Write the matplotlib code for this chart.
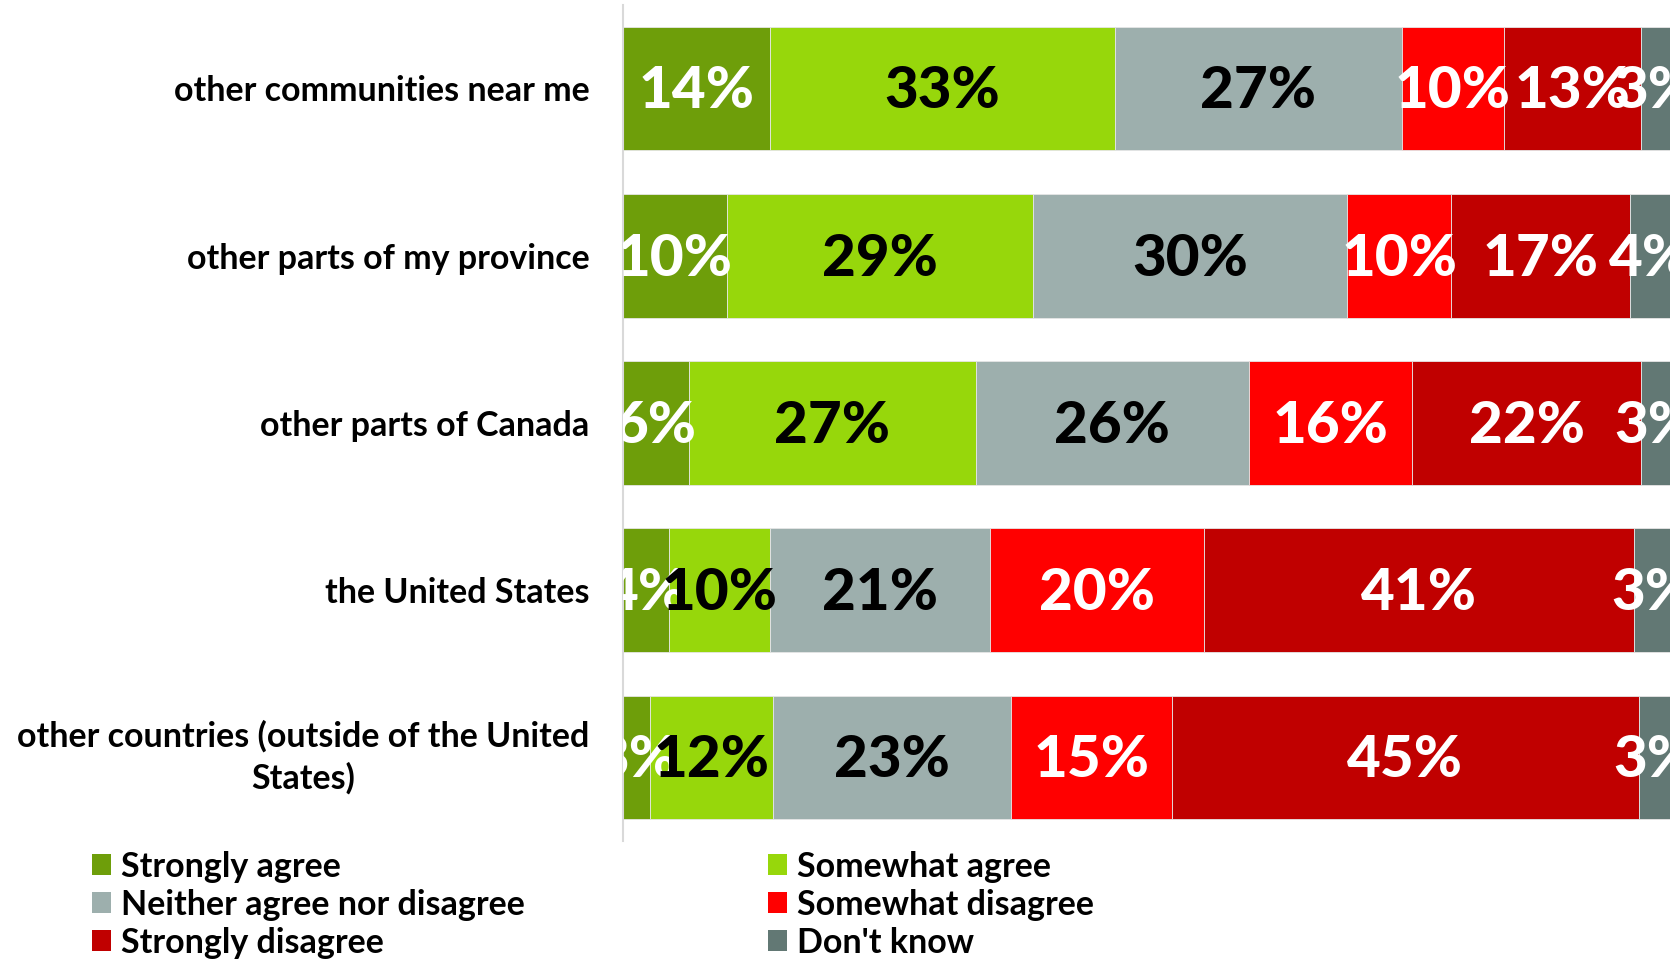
import matplotlib
matplotlib.use("Agg")
import matplotlib.pyplot as plt
from matplotlib.patches import Patch

plt.rcParams['font.family'] = ['Lato', 'DejaVu Sans']

categories = [
    "other communities near me",
    "other parts of my province",
    "other parts of Canada",
    "the United States",
    "other countries (outside of the United\nStates)",
]
responses = ["Strongly agree", "Somewhat agree", "Neither agree nor disagree",
             "Somewhat disagree", "Strongly disagree", "Don't know"]

# percent per category, one list per response
strongly_agree = [14.0, 9.9, 6.3, 4.4, 2.6]
somewhat_agree = [33.0, 29.3, 27.4, 9.6, 11.7]
neither = [27.4, 30.0, 26.1, 21.1, 22.8]
somewhat_disagree = [9.7, 9.9, 15.6, 20.4, 15.3]
strongly_disagree = [13.1, 17.1, 21.8, 41.1, 44.6]
dont_know = [2.8, 3.8, 2.8, 3.4, 3.0]

series = [strongly_agree, somewhat_agree, neither, somewhat_disagree, strongly_disagree, dont_know]
colors = ["#6E9E0A", "#97D70B", "#9DAFAD", "#FF0000", "#C00000", "#627874"]
text_colors = ["white", "black", "black", "white", "white", "white"]

fig = plt.figure(figsize=(16.7, 9.59), dpi=100)
ax = fig.add_axes([0.373, 0.123, 0.627, 0.872])

ypos = list(range(len(categories)))
left = [0.0] * len(categories)
for vals, col, tcol in zip(series, colors, text_colors):
    ax.barh(ypos, vals, left=left, height=0.74, color=col,
            edgecolor="#e6e6e6", linewidth=0.6)
    for y, v, l in zip(ypos, vals, left):
        ax.text(l + v / 2, y + 0.02, f"{round(v)}%", ha="center", va="center",
                fontsize=42, fontweight="black", color=tcol, clip_on=True)
    left = [a + b for a, b in zip(left, vals)]

ax.set_xlim(0, 100)
ax.set_ylim(4.5, -0.5)
ax.set_xticks([])
ax.set_yticks(ypos)
ax.set_yticklabels(categories, fontsize=24.5, fontweight="bold")
for lab in ax.get_yticklabels():
    lab.set_multialignment("center")
    lab.set_linespacing(1.33)
    if "\n" in lab.get_text():
        lab.set_va("center")
ax.tick_params(axis="y", length=0, pad=24)
for s in ["top", "right", "bottom"]:
    ax.spines[s].set_visible(False)
ax.spines["left"].set_color("#d9d9d9")
ax.spines["left"].set_linewidth(1.5)

handles = [Patch(facecolor=c, edgecolor="none") for c in colors]
leg_kw = dict(frameon=False, loc="upper left", prop={"weight": "bold", "size": 24.5},
              handlelength=0.56, handleheight=0.56, handletextpad=0.3,
              labelspacing=0.18, borderpad=0, borderaxespad=0)
fig.legend(handles[0::2], responses[0::2], bbox_to_anchor=(0.055, 0.113), **leg_kw)
fig.legend(handles[1::2], responses[1::2], bbox_to_anchor=(0.46, 0.113), **leg_kw)

fig.savefig("out.png", dpi=100)
